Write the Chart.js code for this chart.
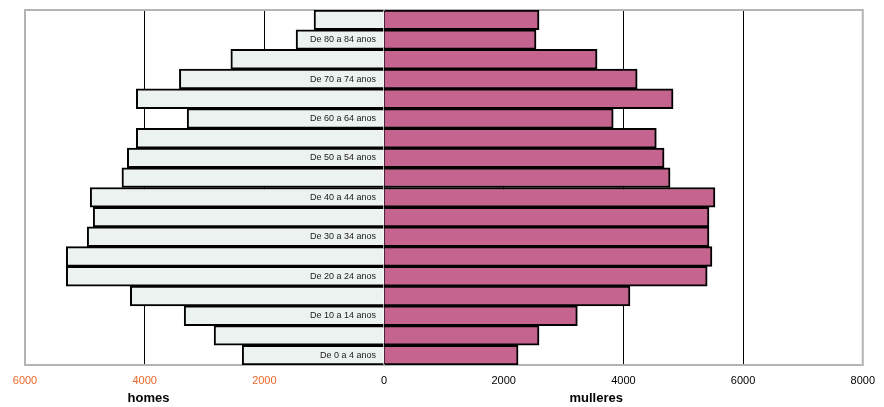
<!DOCTYPE html>
<html>
<head>
<meta charset="utf-8">
<script src="https://cdn.jsdelivr.net/npm/chart.js@4/dist/chart.umd.min.js"></script>
<style>
  html, body { margin: 0; padding: 0; background: #fff; }
  #wrap { width: 884px; height: 407px; }
</style>
</head>
<body>
<div id="wrap"><canvas id="pyramid" width="884" height="407"></canvas></div>
<script>
// age groups, bottom (youngest) to top
const ageGroups = [
  'De 0 a 4 anos', 'De 5 a 9 anos', 'De 10 a 14 anos', 'De 15 a 19 anos',
  'De 20 a 24 anos', 'De 25 a 29 anos', 'De 30 a 34 anos', 'De 35 a 39 anos',
  'De 40 a 44 anos', 'De 45 a 49 anos', 'De 50 a 54 anos', 'De 55 a 59 anos',
  'De 60 a 64 anos', 'De 65 a 69 anos', 'De 70 a 74 anos', 'De 75 a 79 anos',
  'De 80 a 84 anos', 'De 85 e máis anos'
];
const homes = [2370, 2840, 3340, 4240, 5310, 5310, 4960, 4860, 4910, 4380,
  4290, 4140, 3290, 4140, 3420, 2560, 1470, 1170];
const mulleres = [2240, 2590, 3230, 4110, 5400, 5480, 5430, 5430, 5530, 4780,
  4680, 4550, 3830, 4830, 4230, 3560, 2540, 2590];
const xTicks = [-6000, -4000, -2000, 0, 2000, 4000, 6000, 8000];
const axisTitles = ['homes', 'mulleres'];

Chart.defaults.font.family = '"Liberation Sans", Arial, sans-serif';
Chart.defaults.color = '#000';

const framePlugin = {
  id: 'frame',
  beforeDatasetsDraw(chart) {
    const { ctx, chartArea: a } = chart;
    ctx.save();
    ctx.strokeStyle = '#b4b4b4';
    ctx.lineWidth = 2;
    ctx.strokeRect(a.left, a.top, a.right - a.left, a.bottom - a.top);
    ctx.restore();
  },
  afterDatasetsDraw(chart) {
    const { ctx, scales } = chart;
    const x0 = scales.x.getPixelForValue(0);
    ctx.save();
    ctx.font = '9px "Liberation Sans", Arial, sans-serif';
    ctx.fillStyle = '#1a1a1a';
    ctx.textAlign = 'right';
    ctx.textBaseline = 'middle';
    ageGroups.forEach((g, i) => {
      if (i % 2 === 0) ctx.fillText(g, x0 - 8, scales.y.getPixelForValue(i));
    });
    // axis titles
    ctx.font = 'bold 13px "Liberation Sans", Arial, sans-serif';
    ctx.fillStyle = '#000';
    ctx.textAlign = 'center';
    ctx.fillText(axisTitles[0], scales.x.getPixelForValue(-3935), 398);
    ctx.fillText(axisTitles[1], scales.x.getPixelForValue(3545), 398);
    ctx.restore();
  }
};

new Chart(document.getElementById('pyramid'), {
  type: 'bar',
  data: {
    labels: ageGroups,
    datasets: [{
      label: 'homes',
      data: homes.map(v => -v),
      backgroundColor: '#ecf2f0',
      borderColor: '#000',
      borderWidth: 2
    }, {
      label: 'mulleres',
      data: mulleres,
      backgroundColor: '#c5648e',
      borderColor: '#000',
      borderWidth: 2
    }]
  },
  options: {
    indexAxis: 'y',
    responsive: false,
    animation: false,
    datasets: { bar: { barPercentage: 1, categoryPercentage: 1 } },
    layout: { padding: { left: 25, right: 21, top: 10, bottom: 0 } },
    plugins: { legend: { display: false }, tooltip: { enabled: false } },
    scales: {
      x: {
        stacked: true,
        min: xTicks[0],
        max: xTicks[xTicks.length - 1],
        afterBuildTicks: scale => { scale.ticks = xTicks.map(v => ({ value: v })); },
        afterFit: scale => { scale.height = 42; },
        border: { display: false },
        grid: {
          drawTicks: false,
          lineWidth: 1,
          color: c => (c.tick && c.tick.value > xTicks[0] && c.tick.value < xTicks[xTicks.length - 1]) ? '#000' : 'rgba(0,0,0,0)'
        },
        ticks: {
          padding: 9,
          font: { size: 11 },
          color: c => c.tick.value < 0 ? '#e9692c' : '#000',
          callback: v => Math.abs(v)
        }
      },
      y: {
        stacked: true,
        reverse: true,
        display: false
      }
    }
  },
  plugins: [framePlugin]
});
</script>
</body>
</html>
